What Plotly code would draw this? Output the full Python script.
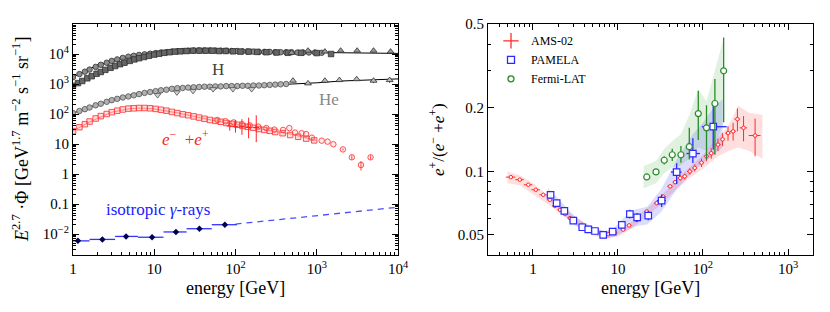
import plotly.graph_objects as go

# ================= LEFT PANEL DATA (E^2.7 * flux) =================
H1_E = [1.0,1.2,1.4,1.6,1.9,2.2,2.6,3.0,3.5,4.1,4.8,5.6,6.5,7.6,8.9,10.4,12.1,14.1,16.5,19.2,22.4,26.1,30.5,35.6,41.5,48.4,56.5,65.9,76.9,89.7,105,122,142,166,194,226,264,308,360,420,490,580,680,800,950,1150]
H1_F = [1698,2138,2570,3020,3715,4365,5130,5890,6607,7413,8128,8710,9333,9772,10230,10715,11220,11480,12020,12300,12590,12880,13030,13180,13180,13180,13030,12880,12880,12590,12590,12300,12020,12020,11750,11750,11750,11480,11480,11480,11480,11220,11220,11220,11220,10960]

H2_E = [1.0,1.15,1.3,1.5,1.7,1.95,2.2,2.5,2.9,3.3,3.8,4.3,5.0,5.7,6.5,7.5,8.6,10,11.5,13.3,15.5,18,21,25,30,36,43,52,63,76,93,115,145,185,240,320,440,640,1000,1500]
H2_F = [871,1072,1259,1549,1820,2188,2512,2951,3467,3981,4571,5129,5888,6607,7244,7943,8710,9550,10230,10960,11480,12020,12300,12590,12880,12880,12880,12880,12590,12590,12300,12020,12020,11750,11480,11220,10960,10960,10720,10000]

H3_E = [490,780,1260,1970,3140,5000,8100]
H3_F = [10960,12880,12020,12880,12880,12880,12020]
H3_ERR = [900,1200,1100,1300,1500,1700,1900]

HE1_E = [1.0,1.2,1.4,1.6,1.9,2.2,2.6,3.0,3.5,4.1,4.8,5.6,6.5,7.6,8.9,10.4,12.1,14.1,16.5,19.2,22.4,26.1,30.5,35.6,41.5,48.4,56.5,65.9,76.9,89.7,105,122,142,166,194,226,264,308,360,420]
HE1_F = [107,126,145,165,195,220,255,290,320,355,385,420,460,505,540,578,617,646,692,724,741,759,776,794,813,813,832,832,851,851,851,871,871,891,891,912,933,955,977,1000]

HE2_E = [11,19,30,53,93,158]
HE2_F = [427,525,589,676,676,676]

HE3_E = [510,780,1260,1900,3100,5000,7900]
HE3_F = [1288,1047,1288,1349,1445,1288,1349]
HE3_ERR = [180,120,150,170,200,220,250]

MODEL_E = [1,2,5,10,20,50,100,200,500,1000,2000,5000,10000]
MODEL_H = [1700,4270,8130,10470,12590,13180,12590,11750,11480,11220,10960,10720,10470]
MODEL_HE = [107,209,427,589,741,832,851,891,1000,1096,1259,1380,1479]

E_SQ = [1.0,1.2,1.4,1.6,1.9,2.2,2.6,3.0,3.5,4.1,4.8,5.6,6.5,7.6,8.9,10.4,12.1,14.1,16.5,19.2,22.4,26.1,30.5,35.6,41.5,48.4,56.5,65.9,76.9,89.7,105,122,142,166,194,226,264,308,380,470,590,740,930]
E_SQ_F = [26.9,36.3,45.7,56.2,70.8,85.1,100,114.8,128.8,141.3,151.4,154.9,158.5,158.5,154.9,147.9,138,128.8,117.5,107.2,97.7,91.2,83.2,75.9,69.2,63.1,58.9,55,50.1,46.8,43.7,39.8,37.2,34.7,31.6,29.5,27.5,25.1,22.9,20,17.4,15.1,13.2]

E_CI = [60,75,95,120,150,190,240,300,385,460,540,650,740,870,1150,1360,1600,2100,2700,3500,4600]
E_CI_F = [63,57.5,52.5,45.7,41.7,38,33.9,30.2,29.5,33.9,24,22.9,21.4,16.2,12.9,12,9.8,6.6,3.6,2.0,3.6]
E_CI_ERR = [0,0,0,0,0,0,0,0,0,0,0,0,0,0,0,0,0,0.5,0.6,0.7,0.6]

E_CR = [85,100,120,145,180]
E_CR_F = [39.8,38,37.2,35.5,35.5]
E_CR_UP = [20,25,30,40,55]
E_CR_DN = [12,14,17,20,24]
E_CR_XE = [7,8,10,12,15]

E_LINE = [1,1.5,2,3,5,7,10,20,50,100,200,500,1000]
E_LINE_F = [27,50,71,115,151,158,148,107,63,44,32,21,13]

G_E = [1.15,2.3,4.5,9.4,18.5,36,74]
G_F = [0.0059,0.0066,0.0083,0.0078,0.0117,0.0150,0.0204]
G_LO = [1.0,1.6,3.3,6.3,13,25,51]
G_HI = [1.6,3.3,6.3,13,25,51,104]
G_ERR = [0.0005,0.0005,0.0006,0.0006,0.0009,0.0012,0.0018]
GD_E = [100,10000]
GD_F = [0.0214,0.078]

# ================= RIGHT PANEL DATA (positron fraction) =================
AMS_E = [0.55,0.70,0.88,1.08,1.32,1.58,1.81,2.08,2.38,2.72,3.10,3.74,4.47,5.36,6.43,7.70,9.20,11.5,13.5,16.6,21.8,28.5,34.0,41.0,47.0,54.0,61.0,70.0,80.0,96.0,110,125,150,170,197,226,254,300,410]
AMS_F = [0.0940,0.0914,0.0865,0.0819,0.0775,0.0734,0.0687,0.0658,0.0628,0.0601,0.0578,0.0558,0.0538,0.0522,0.0509,0.0504,0.0512,0.0530,0.0555,0.0589,0.0646,0.0708,0.0760,0.0850,0.0890,0.0930,0.0948,0.1000,0.1040,0.1100,0.1180,0.1220,0.1340,0.1420,0.1520,0.1550,0.1770,0.1610,0.1480]
AMS_DF = [0.0015,0.0012,0.0010,0.0009,0.0008,0.0007,0.0006,0.0006,0.0005,0.0005,0.0005,0.0005,0.0005,0.0005,0.0005,0.0005,0.0006,0.0006,0.0007,0.0008,0.0010,0.0012,0.0015,0.0018,0.0020,0.0025,0.0030,0.0035,0.0040,0.0050,0.0060,0.0070,0.0090,0.0100,0.0120,0.0150,0.0220,0.0220,0.0300]
AMS_DE = [0.07,0.08,0.1,0.12,0.13,0.13,0.13,0.14,0.15,0.17,0.2,0.25,0.3,0.35,0.4,0.5,0.6,0.8,0.9,1.1,1.5,2,2.5,3,3,3.5,4,5,5,7,8,9,11,12,15,18,20,30,65]
AMS_BAND_E = [0.5,0.7,1,1.5,2,3,5,7,10,15,20,30,50,70,100,150,200,260,350,500]
AMS_BAND_LO = [0.088,0.086,0.078,0.070,0.064,0.057,0.050,0.048,0.049,0.054,0.060,0.068,0.083,0.093,0.103,0.118,0.125,0.130,0.125,0.115]
AMS_BAND_HI = [0.100,0.096,0.088,0.077,0.070,0.062,0.054,0.052,0.053,0.058,0.065,0.074,0.093,0.105,0.120,0.145,0.165,0.205,0.190,0.185]

PAM_E = [1.61,1.90,2.34,2.98,3.80,4.47,5.36,6.70,8.66,11.1,13.8,16.8,22.7,32.6,49.0,76.0,132]
PAM_F = [0.0775,0.0708,0.0650,0.0585,0.0544,0.0532,0.0522,0.0500,0.0519,0.0558,0.0628,0.0606,0.0617,0.0728,0.0993,0.1216,0.163]
PAM_UP = [0.002,0.002,0.0015,0.0015,0.0013,0.0013,0.0013,0.0013,0.0013,0.0015,0.003,0.003,0.003,0.005,0.010,0.022,0.042]
PAM_DN = [0.002,0.002,0.0015,0.0015,0.0013,0.0013,0.0013,0.0013,0.0013,0.0015,0.003,0.003,0.003,0.005,0.012,0.012,0.036]
PAM_XP = [0.1,0.1,0.15,0.2,0.25,0.3,0.35,0.45,0.6,0.8,1.0,1.3,2,4,7,16,58]
PAM_XM = [0.1,0.1,0.15,0.2,0.25,0.3,0.35,0.45,0.6,0.8,1.0,1.3,2,4,7,12,35]
PAM_BAND_E = [1.5,2,3,4,5,7,9,12,16,22,32,50,76,100,132,170]
PAM_BAND_LO = [0.074,0.066,0.056,0.052,0.051,0.048,0.049,0.052,0.055,0.056,0.064,0.083,0.100,0.110,0.120,0.130]
PAM_BAND_HI = [0.083,0.074,0.062,0.057,0.055,0.052,0.054,0.061,0.066,0.068,0.082,0.115,0.150,0.170,0.200,0.220]

FER_E = [21.8,28.0,35.0,43.5,55.0,69.0,88.0,110,138,175]
FER_F = [0.0942,0.0995,0.1130,0.1200,0.1200,0.1310,0.1880,0.1610,0.2100,0.3000]
FER_UP = [0.003,0.003,0.005,0.008,0.012,0.030,0.053,0.045,0.064,0.132]
FER_DN = [0.003,0.003,0.005,0.008,0.010,0.017,0.047,0.047,0.090,0.129]
FER_XE = [1.5,2,2.5,3,4,5,6,8,10,12]
FER_BAND_E = [20,28,35,44,55,69,88,110,138,175]
FER_BAND_LO = [0.083,0.088,0.098,0.105,0.107,0.115,0.130,0.125,0.135,0.170]
FER_BAND_HI = [0.106,0.112,0.128,0.140,0.150,0.185,0.245,0.215,0.300,0.430]

# tick labels
LX_VALS = [1,10,100,1000,10000]
LX_TEXT = ["1","10","10<sup>2</sup>","10<sup>3</sup>","10<sup>4</sup>"]
LY_VALS = [0.01,0.1,1,10,100,1000,10000]
LY_TEXT = ["10<sup>−2</sup>","0.1","1","10","10<sup>2</sup>","10<sup>3</sup>","10<sup>4</sup>"]
RX_VALS = [1,10,100,1000]
RX_TEXT = ["1","10","10<sup>2</sup>","10<sup>3</sup>"]
RY_VALS = [0.05,0.1,0.2,0.5]
RY_TEXT = ["0.05","0.1","0.2","0.5"]

FONT = "Liberation Serif"
fig = go.Figure()

def band(E, lo, hi, color, xa, ya):
    fig.add_trace(go.Scatter(x=list(E)+list(E)[::-1], y=list(hi)+list(lo)[::-1], fill="toself",
                             fillcolor=color, line=dict(width=0), mode="lines", hoverinfo="skip",
                             showlegend=False, xaxis=xa, yaxis=ya))

# ---- left panel ----
fig.add_trace(go.Scatter(x=MODEL_E, y=MODEL_H, mode="lines", line=dict(color="black", width=1), showlegend=False))
fig.add_trace(go.Scatter(x=MODEL_E, y=MODEL_HE, mode="lines", line=dict(color="black", width=1), showlegend=False))
fig.add_trace(go.Scatter(x=E_LINE, y=E_LINE_F, mode="lines", line=dict(color="rgba(255,0,0,0.6)", width=0.8), showlegend=False))

fig.add_trace(go.Scatter(x=H1_E, y=H1_F, mode="markers", showlegend=False,
                         marker=dict(symbol="circle", size=5.5, color="#8c8c8c", line=dict(color="#303030", width=0.8))))
fig.add_trace(go.Scatter(x=H2_E, y=H2_F, mode="markers", showlegend=False,
                         marker=dict(symbol="square", size=5.5, color="#666666", line=dict(color="#303030", width=0.8))))
fig.add_trace(go.Scatter(x=H3_E, y=H3_F, mode="markers", showlegend=False,
                         error_y=dict(type="data", array=H3_ERR, color="#303030", thickness=1, width=0),
                         marker=dict(symbol="triangle-up", size=6, color="#999999", line=dict(color="#303030", width=0.8))))
fig.add_trace(go.Scatter(x=HE1_E, y=HE1_F, mode="markers", showlegend=False,
                         marker=dict(symbol="circle", size=5.5, color="#b0b0b0", line=dict(color="#505050", width=0.8))))
fig.add_trace(go.Scatter(x=HE2_E, y=HE2_F, mode="markers", showlegend=False,
                         marker=dict(symbol="triangle-down", size=6, color="#d0d0d0", line=dict(color="#505050", width=0.8))))
fig.add_trace(go.Scatter(x=HE3_E, y=HE3_F, mode="markers", showlegend=False,
                         error_y=dict(type="data", array=HE3_ERR, color="#303030", thickness=1, width=0),
                         marker=dict(symbol="triangle-up", size=6, color="#bbbbbb", line=dict(color="#303030", width=0.8))))

fig.add_trace(go.Scatter(x=E_SQ, y=E_SQ_F, mode="markers", showlegend=False,
                         marker=dict(symbol="square", size=5.5, color="rgba(255,120,120,0.25)", line=dict(color="#ff4040", width=0.9))))
fig.add_trace(go.Scatter(x=E_CI, y=E_CI_F, mode="markers", showlegend=False,
                         error_y=dict(type="data", array=E_CI_ERR, color="#ff4040", thickness=1, width=0),
                         marker=dict(symbol="circle", size=5.5, color="rgba(255,120,120,0.15)", line=dict(color="#ff4040", width=0.9))))
fig.add_trace(go.Scatter(x=E_CR, y=E_CR_F, mode="markers", showlegend=False,
                         error_y=dict(type="data", array=E_CR_UP, arrayminus=E_CR_DN, symmetric=False, color="#ff2020", thickness=1, width=0),
                         error_x=dict(type="data", array=E_CR_XE, color="#ff2020", thickness=1, width=0),
                         marker=dict(symbol="circle", size=1, color="#ff2020")))

fig.add_trace(go.Scatter(x=GD_E, y=GD_F, mode="lines", showlegend=False,
                         line=dict(color="#4d4dff", width=1.3, dash="6px,5px")))
fig.add_trace(go.Scatter(x=G_E, y=G_F, mode="markers", showlegend=False,
                         error_x=dict(type="data", array=[h - e for h, e in zip(G_HI, G_E)],
                                      arrayminus=[e - l for e, l in zip(G_E, G_LO)], symmetric=False,
                                      color="#3333ff", thickness=1.3, width=0),
                         error_y=dict(type="data", array=G_ERR, color="#000040", thickness=1, width=0),
                         marker=dict(symbol="diamond", size=5, color="#000050")))

# ---- right panel ----
band(AMS_BAND_E, AMS_BAND_LO, AMS_BAND_HI, "rgba(255,0,0,0.13)", "x2", "y2")
band(PAM_BAND_E, PAM_BAND_LO, PAM_BAND_HI, "rgba(40,40,255,0.16)", "x2", "y2")
band(FER_BAND_E, FER_BAND_LO, FER_BAND_HI, "rgba(0,140,0,0.12)", "x2", "y2")

fig.add_trace(go.Scatter(x=AMS_E, y=AMS_F, mode="markers", showlegend=False, xaxis="x2", yaxis="y2",
                         error_y=dict(type="data", array=AMS_DF, color="#ff2a2a", thickness=1, width=0),
                         error_x=dict(type="data", array=AMS_DE, color="#ff2a2a", thickness=1, width=0),
                         marker=dict(symbol="circle", size=3.5, color="white", line=dict(color="#ff2a2a", width=1))))
fig.add_trace(go.Scatter(x=PAM_E, y=PAM_F, mode="markers", showlegend=False, xaxis="x2", yaxis="y2",
                         error_y=dict(type="data", array=PAM_UP, arrayminus=PAM_DN, symmetric=False, color="#2a2aff", thickness=1.3, width=0),
                         error_x=dict(type="data", array=PAM_XP, arrayminus=PAM_XM, symmetric=False, color="#2a2aff", thickness=1.3, width=0),
                         marker=dict(symbol="square", size=6.5, color="white", line=dict(color="#2a2aff", width=1.2))))
fig.add_trace(go.Scatter(x=FER_E, y=FER_F, mode="markers", showlegend=False, xaxis="x2", yaxis="y2",
                         error_y=dict(type="data", array=FER_UP, arrayminus=FER_DN, symmetric=False, color="#2a8a2a", thickness=1.3, width=0),
                         error_x=dict(type="data", array=FER_XE, color="#2a8a2a", thickness=1.3, width=0),
                         marker=dict(symbol="circle", size=6, color="white", line=dict(color="#2a8a2a", width=1.2))))

# legend entries
for name, sym, col, sz in [("AMS-02", "cross-thin-open", "#ff2a2a", 11),
                           ("PAMELA", "square-open", "#2a2aff", 7),
                           ("Fermi-LAT", "circle-open", "#2a8a2a", 6)]:
    fig.add_trace(go.Scatter(x=[None], y=[None], mode="markers", name=name, xaxis="x2", yaxis="y2",
                             marker=dict(symbol=sym, size=sz, color=col, line=dict(color=col, width=1.3))))

def minor_vals(lo, hi):
    return [m * 10.0 ** k for k in range(lo, hi) for m in range(2, 10)]

axis_common = dict(type="log", showgrid=False, zeroline=False, showline=True, linecolor="black", linewidth=1,
                   mirror="allticks", ticks="inside", ticklen=6, tickwidth=1, tickcolor="black", automargin=False,
                   tickfont=dict(family=FONT, size=15, color="black"))

fig.update_layout(
    width=830, height=312, paper_bgcolor="white", plot_bgcolor="white",
    margin=dict(l=0, r=0, t=24, b=57, autoexpand=False),
    font=dict(family=FONT, color="black"),
    xaxis=dict(domain=[73/830, 398/830], range=[0, 4], tickvals=LX_VALS, ticktext=LX_TEXT, anchor="y",
               minor=dict(tickvals=minor_vals(0, 4), ticklen=3, ticks="inside", tickcolor="black"), **axis_common),
    yaxis=dict(domain=[0, 1], range=[-2.7, 5], tickvals=LY_VALS, ticktext=LY_TEXT, anchor="x",
               minor=dict(tickvals=minor_vals(-3, 5), ticklen=3, ticks="inside", tickcolor="black"), **axis_common),
    xaxis2=dict(domain=[488/830, 813/830], range=[-0.529, 3.294], tickvals=RX_VALS, ticktext=RX_TEXT, anchor="y2",
                minor=dict(tickvals=minor_vals(-1, 4), ticklen=3, ticks="inside", tickcolor="black"), **axis_common),
    yaxis2=dict(domain=[0, 1], range=[-1.396, -0.301], tickvals=RY_VALS, ticktext=RY_TEXT, anchor="x2",
                minor=dict(tickvals=[0.04, 0.06, 0.07, 0.08, 0.09, 0.3, 0.4], ticklen=3, ticks="inside", tickcolor="black"),
                **axis_common),
    legend=dict(x=491/830, y=0.99, xanchor="left", yanchor="top", bgcolor="rgba(0,0,0,0)",
                font=dict(family=FONT, size=12), tracegroupgap=0, itemwidth=30),
)

def py(p):
    return 1 - (p - 24) / 231

annots = [
    dict(text="energy [GeV]", x=235/830, y=py(288), xref="paper", yref="paper", font=dict(size=18)),
    dict(text="energy [GeV]", x=650/830, y=py(288), xref="paper", yref="paper", font=dict(size=18)),
    dict(text="<i>E</i><sup>2.7</sup> ·Φ [GeV<sup>1.7</sup> m<sup>−2</sup> s<sup>−1</sup> sr<sup>−1</sup>]",
         x=20/830, y=py(140), xref="paper", yref="paper", textangle=-90, font=dict(size=18)),
    dict(text="<i>e</i><sup>+</sup>/(<i>e</i><sup>−</sup> +<i>e</i><sup>+</sup>)",
         x=437/830, y=py(140), xref="paper", yref="paper", textangle=-90, font=dict(size=17)),
    dict(text="H", x=1.785, y=3.47, xref="x", yref="y", font=dict(size=17, color="#404040")),
    dict(text="He", x=3.15, y=2.47, xref="x", yref="y", font=dict(size=17, color="#888888")),
    dict(text="<i>e</i><sup>−</sup>  +<i>e</i><sup>+</sup>", x=1.38, y=1.2, xref="x", yref="y",
         font=dict(size=17, color="#ff2020")),
    dict(text="isotropic <i>γ</i>-rays", x=1.05, y=-1.17, xref="x", yref="y", font=dict(size=17, color="#1a1aff")),
]
for a in annots:
    a.setdefault("showarrow", False)
    a["xanchor"] = "center"
    a["yanchor"] = "middle"
    a["font"]["family"] = FONT
    fig.add_annotation(**a)

fig.write_html("out.html", config={"displayModeBar": False},
               post_script="document.body.style.margin='0px';")
